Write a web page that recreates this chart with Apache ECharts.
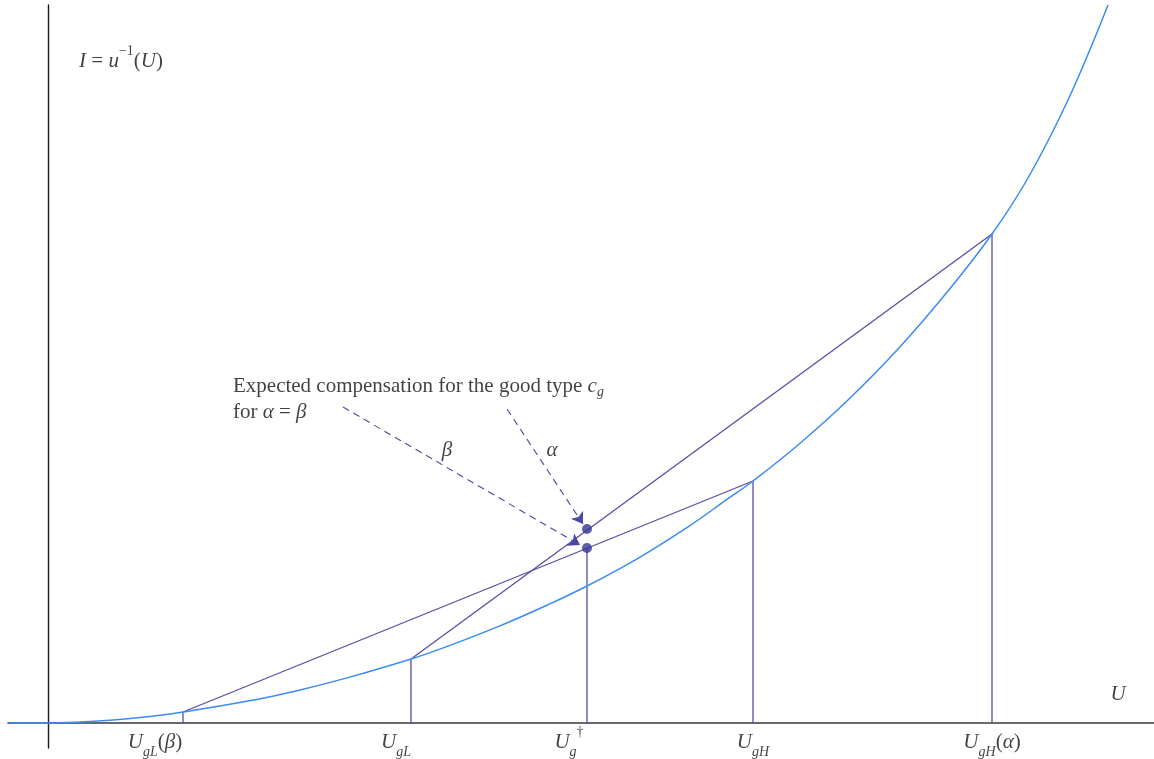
<!DOCTYPE html>
<html>
<head>
<meta charset="utf-8">
<title>Expected compensation for the good type</title>
<script src="https://cdn.jsdelivr.net/npm/echarts@6/dist/echarts.min.js"></script>
<style>
  html, body { margin: 0; padding: 0; background: #ffffff; }
  #chart { width: 1154px; height: 759px; }
</style>
</head>
<body>
<div id="chart"></div>
<script>
// Points read along the convex cost curve I = u^{-1}(U)
const curveU = [-0.39, 0, 0.5, 1.0, 1.35, 2.0, 2.5, 3.0, 3.63, 4.0, 4.5, 5.0, 5.39, 5.9, 6.4, 6.8, 7.05, 7.5, 8.0, 8.5, 9.0, 9.44, 9.8, 10.2, 10.6];
const curveI = [0, 0, 0.02, 0.063, 0.11, 0.219, 0.326, 0.454, 0.64, 0.769, 0.964, 1.183, 1.37, 1.647, 1.961, 2.243, 2.42, 2.78, 3.23, 3.74, 4.32, 4.89, 5.45, 6.23, 7.18];

// Utility levels marked on the U axis and the height of their drop lines
const levelU = [1.35, 3.63, 5.39, 7.05, 9.44];
const levelTop = [0.11, 0.64, 1.75, 2.42, 4.89];
const levelLabels = [
  '{m|U}{s|gL}{r|(}{m|β}{r|)}',
  '{m|U}{s|gL}',
  '{m|U}{s|g}{p|†}',
  '{m|U}{s|gH}',
  '{m|U}{s|gH}{r|(}{m|α}{r|)}'
];

// Chords joining the two outcomes of each lottery
const chordBeta = [[1.35, 0.11], [7.05, 2.42]];
const chordAlpha = [[3.63, 0.64], [9.44, 4.89]];

// Expected compensation points (upper: α chord, lower: β chord)
const compU = [5.39, 5.39];
const compI = [1.94, 1.75];

// Dashed pointers from the annotation to the two points
const arrowBeta = [[2.95, 3.16], [5.32, 1.78]];
const arrowAlpha = [[4.59, 3.14], [5.35, 1.99]];

const serif = "'Liberation Serif', 'Times New Roman', serif";
const ink = '#111111';
const rich = {
  m: { fontFamily: serif, fontStyle: 'italic', fontSize: 21, lineHeight: 34, color: ink },
  r: { fontFamily: serif, fontSize: 21, lineHeight: 34, color: ink },
  s: { fontFamily: serif, fontStyle: 'italic', fontSize: 14, lineHeight: 15, verticalAlign: 'bottom', color: ink },
  p: { fontFamily: serif, fontSize: 14, lineHeight: 14, verticalAlign: 'top', color: ink },
  t: { fontFamily: serif, fontSize: 21, lineHeight: 26, color: ink },
  ti: { fontFamily: serif, fontStyle: 'italic', fontSize: 21, lineHeight: 26, color: ink },
  ts: { fontFamily: serif, fontStyle: 'italic', fontSize: 14, lineHeight: 10, verticalAlign: 'bottom', color: ink }
};

// Text placements (data coordinates + pixel nudges)
const tickOffsets = [[-28, 19], [-15, 19], [-18, 19], [0, 19], [0, 19]];
const notes = [
  { at: [0.73, 6.62], text: '{m|I}{r| = }{m|u}{p|−1}{r|(}{m|U}{r|)}', align: 'center' },
  { at: [10.70, 0.29], text: '{m|U}', align: 'center' },
  { at: [3.99, 2.73], text: '{m|β}', align: 'center' },
  { at: [5.04, 2.73], text: '{m|α}', align: 'center' },
  { at: [1.85, 3.24], text: '{t|Expected compensation for the good type }{ti|c}{ts|g}\n{t|for }{ti|α}{t| = }{ti|β}', align: 'left' }
];

const chordColor = '#5a4ca4';
const dropColor = '#4242a6';
const curveColor = '#3a8cf4';

function segment(points, color, width) {
  return {
    type: 'line', data: points, symbol: 'none', silent: true, z: 3,
    lineStyle: { color: color, width: width }
  };
}

const series = [];

// drop lines to the U axis
levelU.forEach(function (u, i) {
  series.push(segment([[u, 0], [u, levelTop[i]]], dropColor, 1.2));
});

// the two chords
series.push(segment(chordBeta, chordColor, 1.3));
series.push(segment(chordAlpha, chordColor, 1.3));

// the curve
series.push({
  type: 'line', data: curveU.map(function (u, i) { return [u, curveI[i]]; }),
  smooth: 0.4, symbol: 'none', silent: true, z: 4,
  lineStyle: { color: curveColor, width: 1.5 }
});

// dashed pointers with arrow heads
series.push({
  type: 'lines', coordinateSystem: 'cartesian2d', silent: true, z: 5,
  symbol: ['none', 'arrow'], symbolSize: 11,
  lineStyle: { color: '#4a48a8', width: 1.1, type: [7, 5], opacity: 1 },
  data: [{ coords: arrowBeta }, { coords: arrowAlpha }]
});

// expected compensation points
series.push({
  type: 'scatter', silent: true, z: 6, symbolSize: 10,
  itemStyle: { color: '#343492' },
  data: compU.map(function (u, i) { return [u, compI[i]]; })
});

// U-axis labels
series.push({
  type: 'scatter', silent: true, z: 7, symbolSize: 0,
  data: levelU.map(function (u, i) {
    return {
      value: [u, 0],
      label: {
        show: true, position: 'inside', align: 'center', verticalAlign: 'middle',
        offset: tickOffsets[i], formatter: levelLabels[i], rich: rich
      }
    };
  })
});

// other annotations
series.push({
  type: 'scatter', silent: true, z: 7, symbolSize: 0,
  data: notes.map(function (n) {
    return {
      value: n.at,
      label: {
        show: true, position: 'inside', align: n.align, verticalAlign: 'middle',
        formatter: n.text, rich: rich
      }
    };
  })
});

const chart = echarts.init(document.getElementById('chart'), null, { renderer: 'canvas' });
chart.setOption({
  animation: false,
  backgroundColor: '#ffffff',
  grid: { left: 8, right: 0, top: 5, bottom: 11, containLabel: false },
  xAxis: {
    type: 'value', min: -0.40, max: 11.06,
    axisLine: { show: true, onZero: true, lineStyle: { color: '#3a3a3a', width: 1.6 } },
    axisTick: { show: false }, axisLabel: { show: false }, splitLine: { show: false }
  },
  yAxis: {
    type: 'value', min: -0.25, max: 7.18,
    axisLine: { show: true, onZero: true, lineStyle: { color: '#1a1a1a', width: 1.4 } },
    axisTick: { show: false }, axisLabel: { show: false }, splitLine: { show: false }
  },
  series: series
});
</script>
</body>
</html>
